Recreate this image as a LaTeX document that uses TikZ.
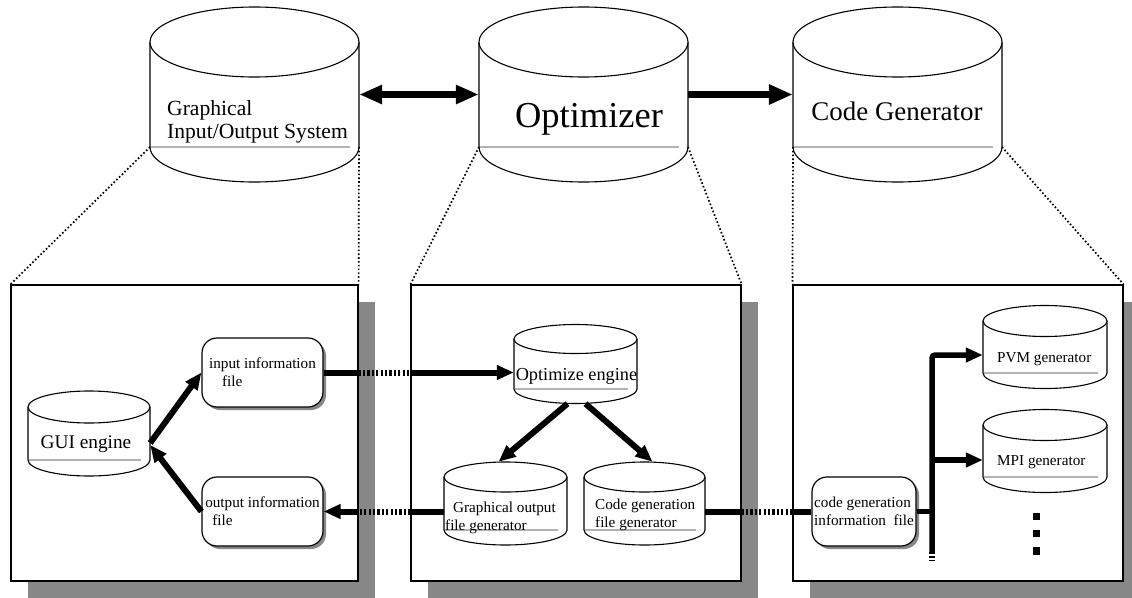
\documentclass[tikz,border=0pt]{standalone}
\usepackage{fontspec}
\setmainfont{Liberation Serif}
\usetikzlibrary{arrows.meta,fit,shadows}

% Database drum: #1 name, #2 left x, #3 right x, #4 centre y of top ellipse,
% #5 lower end of the sides, #6 vertical radius of the ellipses
\newcommand\drum[6]{%
  \pgfmathsetmacro\drumcx{(#2+#3)/2}%
  \pgfmathsetmacro\drumrx{(#3-#2)/2}%
  \fill[white] (#2,#4) -- (#2,#5) arc[start angle=180,end angle=360,x radius=\drumrx pt,y radius=#6pt] -- (#3,#4) -- cycle;
  \draw[drumline] (#2,#4) -- (#2,#5) arc[start angle=180,end angle=360,x radius=\drumrx pt,y radius=#6pt] -- (#3,#4);
  \draw[drumline,fill=white] (\drumcx,#4) ellipse[x radius=\drumrx pt,y radius=#6pt];
  \draw[drumrule] (#2+1,#5) -- (#3-9,#5);
  \coordinate (#1-bl) at (#2,#5);
  \coordinate (#1-br) at (#3,#5);
  \node[fit={(#2,#4-#6) (#3,#5+#6)},inner sep=0pt] (#1) {};
}

\begin{document}
\begin{tikzpicture}[x=1pt,y=-1pt,
  drumline/.style={line width=1.1pt,black},
  drumrule/.style={line width=1.4pt,black!30},
  panel/.style={draw,line width=1.2pt,fill=white,inner sep=0pt,
    drop shadow={shadow xshift=17pt,shadow yshift=-17pt,fill=black!47,opacity=1}},
  filebox/.style={draw,line width=1.2pt,fill=white,rounded corners=15pt,
    minimum width=121pt,minimum height=69pt,inner sep=2pt,align=left,
    font=\fontsize{15.2}{18}\selectfont,
    drop shadow={shadow xshift=3pt,shadow yshift=-3pt,fill=black!47,opacity=1}},
  guide/.style={line width=1.7pt,dash pattern=on 1.6pt off 2.2pt},
  heavy/.style={line width=7.5pt},
  bighead/.style={-{Triangle[length=24pt,width=19pt]}},
  conn/.style={line width=6pt},
  gap/.style={line width=6pt,dash pattern=on 2.2pt off 2.2pt},
  tip/.style={-{Triangle[length=17pt,width=14pt]}},
  bus/.style={line width=5.5pt},
  busgap/.style={line width=5.5pt,dash pattern=on 1.6pt off 2.4pt},
  txt/.style={inner sep=0pt,anchor=base},
  small/.style={font=\fontsize{15.2}{18}\selectfont},
  dotsq/.style={fill=black,inner sep=0pt,minimum width=7.5pt,minimum height=7.5pt}]
\useasboundingbox (0,0) rectangle (1132,597);

% ---- three panels ----
\node[panel,fit={(11,285) (358,581)}] (box1) {};
\node[panel,fit={(411,285) (741,581)}] (box2) {};
\node[panel,fit={(793,285) (1123,581)}] (box3) {};

% ---- top level components ----
\drum{gios}{150}{359}{42}{147}{35}
\drum{optim}{479}{688}{42}{147}{35}
\drum{codegen}{793}{1002}{42}{147}{35}

% multi-line labels are anchored on the baseline of their last line
\node[txt,anchor=base west,align=left,font=\fontsize{21.6}{23}\selectfont] (giostext) at (167,138) {Graphical\\Input/Output System};
\node[txt,font=\fontsize{36.5}{40}\selectfont] (optimtext) at (589,127) {Optimizer};
\node[txt,font=\fontsize{26.9}{30}\selectfont] (codegentext) at (897,120) {Code Generator};

\draw[heavy,{Triangle[length=23pt,width=18pt]}-{Triangle[length=23pt,width=18pt]}] (gios.east) -- (optim.west);
\draw[heavy,bighead] (optim.east) -- (codegen.west);

% ---- zoom guides ----
\draw[guide] (gios-bl) -- (box1.north west);
\draw[guide] (gios-br) -- (box1.north east);
\draw[guide] (optim-bl) -- (box2.north west);
\draw[guide] (optim-br) -- (box2.north east);
\draw[guide] (codegen-bl) -- (box3.north west);
\draw[guide] (codegen-br) -- (box3.north east);

% ---- graphical input/output system ----
\drum{gui}{28}{150}{407}{460}{16}
\node[txt,font=\fontsize{19.3}{22}\selectfont] (guitext) at (86,448) {GUI engine};
\node[filebox] (infile) at (262.5,372.5) {input information\\\hspace*{13pt}file};
\node[filebox] (outfile) at (262.5,511.5) {output information\\\hspace*{7pt}file};
\draw[conn,tip] ([yshift=-9.5pt]gui.east) -- (infile.west);
\draw[conn,tip] (outfile.west) -- ([yshift=-11.5pt]gui.east);

% ---- optimizer ----
\drum{opteng}{514}{637}{339}{389}{14.5}
\node[txt,font=\fontsize{18.3}{21}\selectfont] (optengtext) at (576.5,380) {Optimize engine};
\drum{gofg}{444}{567}{477}{530}{15}
\drum{cgfg}{584}{705}{477}{530}{15}
\node[txt,small,anchor=base west,align=left] (gofgtext) at (445,530) {\hspace*{8pt}Graphical output\\file generator};
\node[txt,small,anchor=base west,align=left] (cgfgtext) at (595,527) {Code generation\\file generator};
\draw[conn,tip] ([xshift=-8pt]opteng.south) -- ([xshift=-7pt]gofg.north);
\draw[conn,tip] ([xshift=10pt]opteng.south) -- ([xshift=8pt]cgfg.north);

% ---- code generator ----
\node[filebox,minimum width=104pt] (cgi) at (864,511.5) {code generation\\information\ \ file};
\drum{pvm}{983}{1107}{321}{373}{15.5}
\drum{mpi}{983}{1107}{425}{477}{15.5}
\node[txt,small,anchor=base west] (pvmtext) at (997,362) {PVM generator};
\node[txt,small,anchor=base west] (mpitext) at (997,465) {MPI generator};
\node[dotsq] (dot1) at (1036.5,516.5) {};
\node[dotsq] (dot2) at (1036.5,533.5) {};
\node[dotsq] (dot3) at (1036.5,551) {};

% ---- links between the panels ----
\draw[conn] (infile.east) -- (infile.east -| box1.east);
\draw[gap] (infile.east -| box1.east) -- (infile.east -| box2.west);
\draw[conn,tip] (infile.east -| box2.west) -- (infile.east -| opteng.west);

\draw[conn] (gofg.west |- outfile.east) -- (outfile.east -| box2.west);
\draw[gap] (outfile.east -| box2.west) -- (outfile.east -| box1.east);
\draw[conn,tip] (outfile.east -| box1.east) -- (outfile.east);

\draw[conn] (cgfg.east |- cgi.west) -- (cgi.west -| box2.east);
\draw[gap] (cgi.west -| box2.east) -- (cgi.west -| box3.west);
\draw[conn] (cgi.west -| box3.west) -- (cgi.west);

% ---- distribution bus to the generators ----
\coordinate (bustop) at (932,355);
\coordinate (busmid) at (932,460);
\coordinate (busend) at (932,552);
\coordinate (bustail) at (932,561);
\draw[bus] (cgi.east) -- (cgi.east -| bustop);
\draw[bus,tip,rounded corners=3pt] (busend) -- (bustop) -- (bustop -| pvm.west);
\draw[bus,tip] (busmid) -- (busmid -| mpi.west);
\draw[busgap] (busend) -- (bustail);
\end{tikzpicture}
\end{document}
